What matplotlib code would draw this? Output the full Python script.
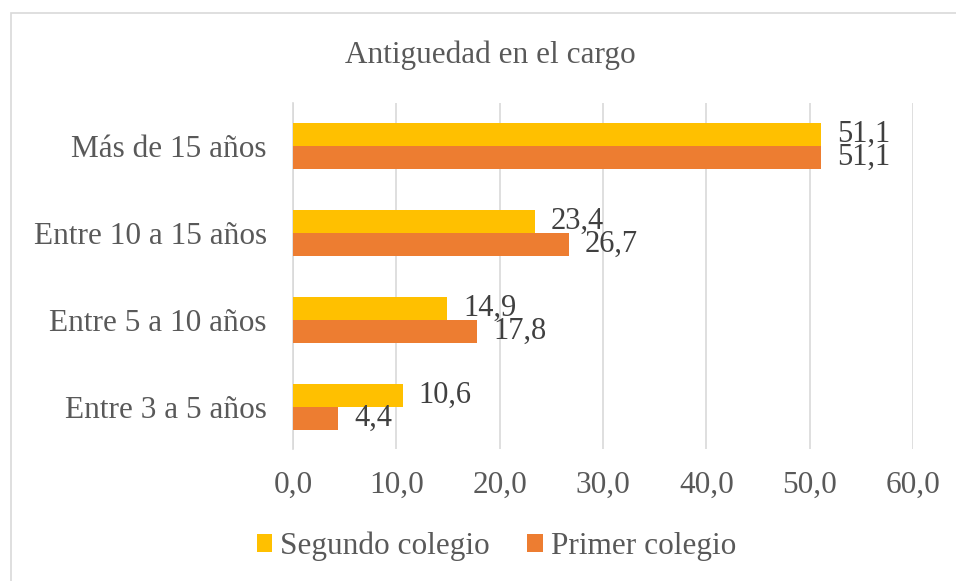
import matplotlib.pyplot as plt
import numpy as np

plt.rcParams['font.family'] = ['Liberation Serif', 'DejaVu Serif']

categorias = ["Entre 3 a 5 años", "Entre 5 a 10 años", "Entre 10 a 15 años", "Más de 15 años"]
segundo = [10.6, 14.9, 23.4, 51.1]
primero = [4.4, 17.8, 26.7, 51.1]
ticks_x = [0, 10, 20, 30, 40, 50, 60]

gris = "#595959"

fig = plt.figure(figsize=(9.56, 5.81), dpi=100)
ax = fig.add_axes([0.3065, 0.2272, 0.6485, 0.5955])

y = np.arange(len(categorias))
h = 0.264
b1 = ax.barh(y + h / 2, segundo, height=h, color="#FFC000", label="Segundo colegio", zorder=3)
b2 = ax.barh(y - h / 2, primero, height=h, color="#ED7D31", label="Primer colegio", zorder=3)

# etiquetas de datos con coma decimal
for barras, vals in [(b1, segundo), (b2, primero)]:
    for barra, v in zip(barras, vals):
        ax.annotate(f"{v:.1f}".replace(".", ","), (v, barra.get_y() + barra.get_height() / 2),
                    xytext=(11.5, 0), textcoords="offset points",
                    va="center", ha="left", fontsize=22, color="#404040", zorder=4)

ax.set_xlim(0, 60)
ax.set_ylim(-0.483, 3.494)
ax.set_xticks(ticks_x)
ax.set_xticklabels([f"{t:.1f}".replace(".", ",") for t in ticks_x], fontsize=22.5, color=gris)
ax.set_yticks(y)
ax.set_yticklabels(categorias, fontsize=22.5, color=gris)
ax.tick_params(axis="x", length=0, pad=15.5)
ax.tick_params(axis="y", length=0, pad=19)
ax.grid(axis="x", color="#D9D9D9", linewidth=1.2, zorder=0)
for s in ["top", "right", "bottom"]:
    ax.spines[s].set_visible(False)
ax.spines["left"].set_color("#D9D9D9")
ax.spines["left"].set_linewidth(1.2)

fig.text(0.513, 0.8916, "Antiguedad en el cargo", ha="center", va="baseline", fontsize=22.5, color=gris)

fig.legend(handles=[b1, b2], loc="center", bbox_to_anchor=(0.519, 0.06), ncol=2, frameon=False,
           fontsize=22.5, handlelength=0.5, handleheight=0.5, columnspacing=1.2, handletextpad=0.25,
           labelcolor=gris)

fig.patches.append(plt.Rectangle((0.0115, -0.05), 1.05, 0.9776 + 0.05, transform=fig.transFigure,
                                 fill=False, edgecolor="#D9D9D9", linewidth=1.2))

fig.savefig("out.png", dpi=100)
